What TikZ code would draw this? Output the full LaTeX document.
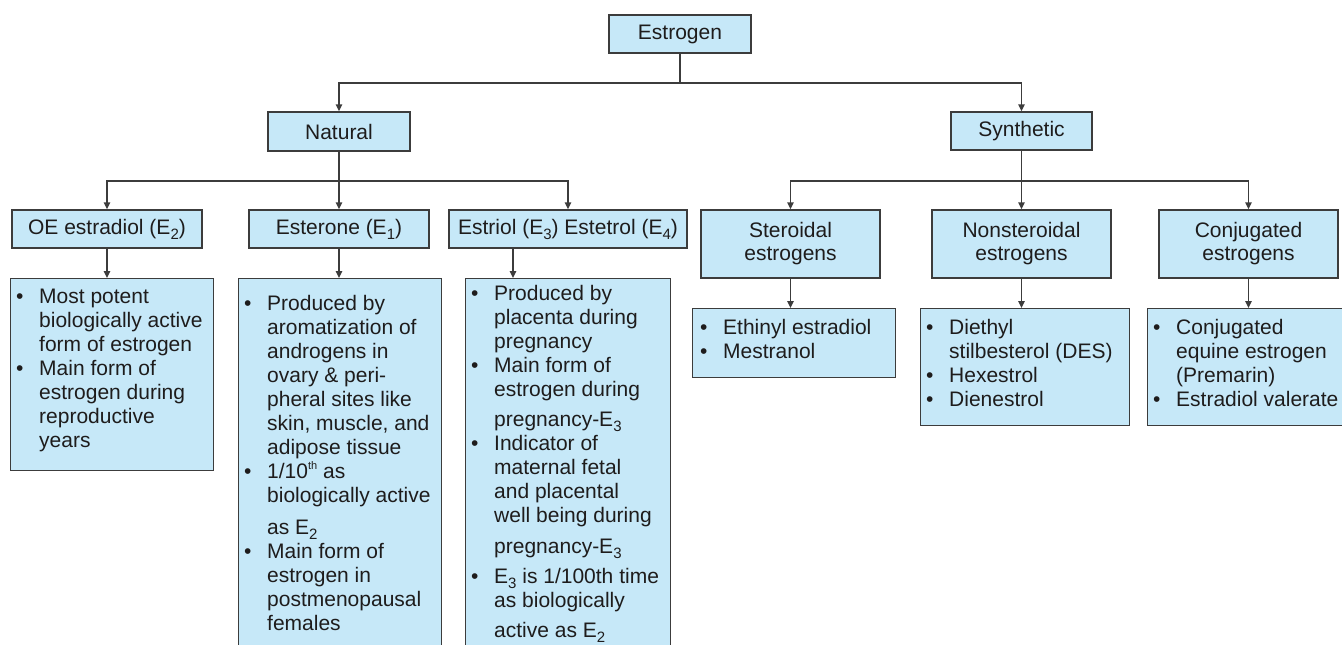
\documentclass[tikz,border=0pt]{standalone}
\usepackage{fontspec}
\setmainfont{Liberation Sans}
\usetikzlibrary{arrows.meta}
\definecolor{boxfill}{RGB}{198,232,248}
\definecolor{boxline}{RGB}{60,60,60}
\definecolor{ink}{RGB}{30,28,28}
\newcommand\bl{\makebox[23pt][l]{\textbullet}}
\newcommand\cl{\hspace*{23pt}}
\newcommand\subsc[1]{\raisebox{-5pt}{\fontsize{15}{15}\selectfont #1}}
\newcommand\supsc[1]{\raisebox{9pt}{\fontsize{11}{11}\selectfont #1}}
\begin{document}
\begin{tikzpicture}[x=1pt,y=-1pt,
  hdr/.style={draw=boxline, line width=1.4pt, fill=boxfill, inner sep=0pt, align=center,
    text=ink, font=\fontsize{21}{23}\selectfont},
  detbox/.style={draw=boxline, line width=1.4pt, fill=boxfill, inner sep=0pt, anchor=north west},
  listtext/.style={anchor=base west, inner sep=0pt, text=ink, font=\fontsize{21}{24}\selectfont},
  conn/.style={draw=boxline, line width=1.4pt},
  arr/.style={conn, -{Triangle[length=7pt,width=6.5pt]}}]
\useasboundingbox (0,0) rectangle (1342,645);
\fill[white] (0,0) rectangle (1342,645);
% top level
\node[hdr, minimum width=142pt, minimum height=38pt] (est) at (680,34) {Estrogen};
\node[hdr, minimum width=142pt, minimum height=39pt] (nat) at (339,131.5) {Natural};
\node[hdr, minimum width=141pt, minimum height=38pt] (syn) at (1021.5,131) {Synthetic};
% natural children
\node[hdr, minimum width=190pt, minimum height=38pt] (oe) at (107,229) {OE estradiol (E\subsc{2})};
\node[hdr, minimum width=180pt, minimum height=38pt] (esr) at (339,229) {Esterone (E\subsc{1})};
\node[hdr, minimum width=238pt, minimum height=38pt] (eri) at (568,229) {Estriol (E\subsc{3}) Estetrol (E\subsc{4})};
% synthetic children
\node[hdr, minimum width=179pt, minimum height=68pt] (ster) at (790.5,244) {Steroidal\\estrogens};
\node[hdr, minimum width=179pt, minimum height=68pt] (nons) at (1021.5,244) {Nonsteroidal\\estrogens};
\node[hdr, minimum width=179pt, minimum height=68pt] (conj) at (1248.5,244) {Conjugated\\estrogens};
% detail boxes
\node[detbox, minimum width=203pt, minimum height=192pt] (oedet) at (10,278) {};
\node[detbox, minimum width=203pt, minimum height=390pt] (esrdet) at (238,278) {};
\node[detbox, minimum width=205pt, minimum height=390pt] (eridet) at (465,278) {};
\node[detbox, minimum width=203pt, minimum height=69pt] (sterdet) at (692,308) {};
\node[detbox, minimum width=209pt, minimum height=117pt] (nonsdet) at (920,308) {};
\node[detbox, minimum width=210pt, minimum height=117pt] (conjdet) at (1147,308) {};
% texts
\node[listtext] (oetxt) at (16,303) {\begin{tabular}[t]{@{}l@{}}
\bl Most potent\\
\cl biologically active\\
\cl form of estrogen\\
\bl Main form of\\
\cl estrogen during\\
\cl reproductive\\
\cl years
\end{tabular}};
\node[listtext] (esrtxt) at (244,310) {\begin{tabular}[t]{@{}l@{}}
\bl Produced by\\
\cl aromatization of\\
\cl androgens in\\
\cl ovary \& peri-\\
\cl pheral sites like\\
\cl skin, muscle, and\\
\cl adipose tissue\\
\bl 1/10\supsc{th} as\\
\cl biologically active\\[8pt]
\cl as E\subsc{2}\\
\bl Main form of\\
\cl estrogen in\\
\cl postmenopausal\\
\cl females
\end{tabular}};
\node[listtext] (eritxt) at (471,300) {\begin{tabular}[t]{@{}l@{}}
\bl Produced by\\
\cl placenta during\\
\cl pregnancy\\
\bl Main form of\\
\cl estrogen during\\[6pt]
\cl pregnancy-E\subsc{3}\\
\bl Indicator of\\
\cl maternal fetal\\
\cl and placental\\
\cl well being during\\[7pt]
\cl pregnancy-E\subsc{3}\\[6pt]
\bl E\subsc{3} is 1/100th time\\
\cl as biologically\\[6pt]
\cl active as E\subsc{2}
\end{tabular}};
\node[listtext] (stertxt) at (700,334) {\begin{tabular}[t]{@{}l@{}}
\bl Ethinyl estradiol\\
\bl Mestranol
\end{tabular}};
\node[listtext] (nonstxt) at (926,334) {\begin{tabular}[t]{@{}l@{}}
\bl Diethyl\\
\cl stilbesterol (DES)\\
\bl Hexestrol\\
\bl Dienestrol
\end{tabular}};
\node[listtext] (conjtxt) at (1153,334) {\begin{tabular}[t]{@{}l@{}}
\bl Conjugated\\
\cl equine estrogen\\
\cl (Premarin)\\
\bl Estradiol valerate
\end{tabular}};
% junctions
\coordinate (j0) at (680,83);
\coordinate (j1) at (339,181);
\coordinate (j2) at (1021.5,181);
% connectors
\draw[conn] (est.south) -- (j0);
\draw[arr] (j0) -| (nat.north);
\draw[arr] (j0) -| (syn.north);
\draw[conn] (nat.south) -- (j1);
\draw[arr] (j1) -| (oe.north);
\draw[arr] (j1) -- (esr.north);
\draw[arr] (j1) -| (eri.north);
\draw[conn] (syn.south) -- (j2);
\draw[arr] (j2) -| (ster.north);
\draw[arr] (j2) -- (nons.north);
\draw[arr] (j2) -| (conj.north);
\draw[arr] (oe.south) -- (oe.south |- oedet.north);
\draw[arr] (esr.south) -- (esr.south |- esrdet.north);
\draw[arr] ([xshift=-55pt]eri.south) -- ([xshift=-55pt]eri.south |- eridet.north);
\draw[arr] (ster.south) -- (ster.south |- sterdet.north);
\draw[arr] (nons.south) -- (nons.south |- nonsdet.north);
\draw[arr] (conj.south) -- (conj.south |- conjdet.north);
\end{tikzpicture}
\end{document}
